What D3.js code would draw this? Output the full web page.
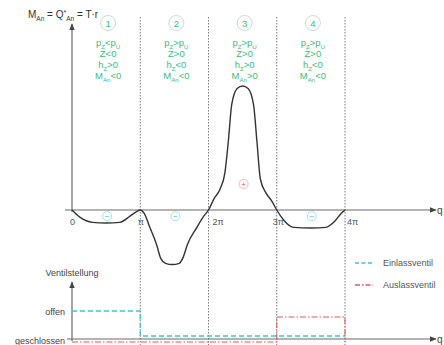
<!DOCTYPE html>
<html>
<head>
<meta charset="utf-8">
<script src="https://cdn.jsdelivr.net/npm/d3@7"></script>
<style>
body { margin: 0; background: #fff; }
svg { display: block; }
text { font-family: "Liberation Sans", Arial, sans-serif; }
</style>
</head>
<body>
<svg width="444" height="345"></svg>
<script>
// crank angle in units of pi, torque in % of peak
var phase  = [0, 0.12, 0.3, 0.5, 0.7, 0.85, 0.94, 1.0,
              1.06, 1.14, 1.24, 1.3, 1.37, 1.47, 1.57, 1.63, 1.69, 1.83, 1.93, 2.0,
              2.08, 2.17, 2.24, 2.29, 2.34, 2.42, 2.5, 2.58, 2.66, 2.71, 2.76, 2.84, 2.93, 3.0,
              3.1, 3.25, 3.5, 3.72, 3.85, 3.94, 4.0];
var torque = [0, -6, -10, -10.5, -10, -5, -1.5, 0,
              -3, -14, -28, -39, -43, -44, -43, -38, -28, -14, -5, 0,
              9, 17, 30, 55, 85, 98, 100, 98, 85, 55, 25, 14, 7, 0,
              -8, -14, -14.5, -14, -9, -3, 0];

var tickVals = [0, 1, 2, 3, 4];
var tickLabels = ["0", "π", "2π", "3π", "4π"];
var tickShift = [0, 0, 9, 1, 7];

var zoneNames = ["1", "2", "3", "4"];
var zoneConds = [
    ["p_Z<p_U", "Z<0", "h_Z>0", "M_An<0"],
    ["p_Z>p_U", "Z>0", "h_Z<0", "M_An<0"],
    ["p_Z>p_U", "Z>0", "h_Z>0", "M_An>0"],
    ["p_Z>p_U", "Z>0", "h_Z<0", "M_An<0"]
];
var zoneSigns = ["−", "−", "+", "−"];

// valve positions: 1 = offen, 0 = geschlossen
var valvePhase = [0, 1, 2, 3, 4];
var einlass = [1, 0, 0, 0, 0];
var auslass = [0, 0, 0, 1, 0];
var legendNames = ["Einlassventil", "Auslassventil"];

var green = "#3dba7e", cyan = "#45bfd6", red = "#e05a5a", axisCol = "#6a6a6a";

var svg = d3.select("svg");

var x = d3.scaleLinear().domain([0, 4]).range([72, 345]);
var yTop = d3.scaleLinear().domain([-50, 100]).range([272, 86]);
var yLow = d3.scaleLinear().domain([0, 1]).range([339, 314]);

function richText(sel, str) {
    var parts = str.match(/\^[^_^]|_[A-Za-z]+|[^_^]+/g);
    var shift = 0;
    parts.forEach(function(p) {
        var t = sel.append("tspan");
        if (p[0] == "_") {
            t.text(p.slice(1)).attr("font-size", "0.65em").attr("dy", 2.5 - shift);
            shift = 2.5;
        } else if (p[0] == "^") {
            t.text(p.slice(1)).attr("font-size", "0.7em").attr("dy", -3.5 - shift);
            shift = -3.5;
        } else {
            t.text(p).attr("dy", -shift);
            shift = 0;
        }
    });
}

var defs = svg.append("defs");
defs.append("marker").attr("id", "arr")
    .attr("viewBox", "0 0 10 10").attr("refX", 9).attr("refY", 5)
    .attr("markerWidth", 7).attr("markerHeight", 7).attr("orient", "auto")
    .attr("markerUnits", "userSpaceOnUse")
    .append("path").attr("d", "M0,1L10,5L0,9Z").attr("fill", "#444");

// dotted phase boundaries
svg.append("g").selectAll("line").data(tickVals.slice(1)).enter().append("line")
    .attr("x1", d => x(d)).attr("x2", d => x(d))
    .attr("y1", 17).attr("y2", 345)
    .attr("stroke", "#555").attr("stroke-width", 0.8)
    .attr("stroke-dasharray", "1.5,1.5");

// top axes
svg.append("line").attr("x1", 65).attr("x2", 436).attr("y1", yTop(0)).attr("y2", yTop(0))
    .attr("stroke", axisCol).attr("stroke-width", 1.2).attr("marker-end", "url(#arr)");
svg.append("line").attr("x1", x(0)).attr("x2", x(0)).attr("y1", yTop(0) + 2).attr("y2", 24)
    .attr("stroke", axisCol).attr("stroke-width", 1.2).attr("marker-end", "url(#arr)");
svg.append("text").attr("x", 437).attr("y", yTop(0) + 3.5).attr("font-size", 10).attr("fill", "#444").text("q");

var title = svg.append("text").attr("x", 28).attr("y", 18).attr("font-size", 10).attr("fill", "#333");
richText(title, "M_An = Q^*_An = T·r");

var xAxis = svg.append("g").attr("transform", `translate(0,${yTop(0)})`)
    .call(d3.axisBottom(x).tickValues(tickVals).tickSize(0).tickPadding(9)
        .tickFormat((d, i) => tickLabels[i]));
xAxis.select(".domain").remove();
xAxis.selectAll("text").attr("font-size", 9).attr("fill", "#555")
    .attr("font-family", "Liberation Sans, Arial, sans-serif")
    .attr("dx", (d, i) => tickShift[i]);

// torque curve
var pts = phase.map((p, i) => [p, torque[i]]);
var torqueLine = d3.line().x(d => x(d[0])).y(d => yTop(d[1])).curve(d3.curveMonotoneX);
svg.append("path").datum(pts)
    .attr("d", torqueLine)
    .attr("fill", "none").attr("stroke", "#333").attr("stroke-width", 1.4);

// zone labels
var zones = svg.append("g").selectAll("g").data(zoneNames).enter().append("g")
    .attr("transform", (d, i) => `translate(${x(i + 0.5) + 2},0)`);
zones.append("circle").attr("cy", 23).attr("r", 7.5)
    .attr("fill", "#fff").attr("stroke", "#cfd8d4").attr("stroke-width", 1);
zones.append("text").attr("y", 26.5).attr("text-anchor", "middle")
    .attr("font-size", 9.5).attr("fill", green).text(d => d);
zones.each(function(d, i) {
    var g = d3.select(this);
    zoneConds[i].forEach(function(c, j) {
        var t = g.append("text").attr("y", 46 + j * 11).attr("text-anchor", "middle")
            .attr("font-size", 9.5).attr("fill", green);
        richText(t, c);
    });
});

// sign markers
var signs = svg.append("g").selectAll("g").data(zoneSigns).enter().append("g")
    .attr("transform", (d, i) => `translate(${x(i + 0.5) + 1},${d == "+" ? yTop(21) : yTop(-5)})`);
signs.append("circle").attr("r", 4.5).attr("fill", "none")
    .attr("stroke", d => d == "+" ? "#f0b0b0" : "#9fdbe8").attr("stroke-width", 0.9);
signs.append("text").attr("y", 3).attr("text-anchor", "middle").attr("font-size", 8)
    .attr("fill", d => d == "+" ? red : cyan).text(d => d);

// lower chart: valve positions
svg.append("line").attr("x1", 67).attr("x2", 436).attr("y1", yLow(0)).attr("y2", yLow(0))
    .attr("stroke", axisCol).attr("stroke-width", 1.2).attr("marker-end", "url(#arr)");
svg.append("line").attr("x1", x(0)).attr("x2", x(0)).attr("y1", yLow(0) + 2).attr("y2", 282)
    .attr("stroke", axisCol).attr("stroke-width", 1.2).attr("marker-end", "url(#arr)");
svg.append("text").attr("x", 437).attr("y", yLow(0) + 3.5).attr("font-size", 10).attr("fill", "#444").text("q");
svg.append("text").attr("x", 72).attr("y", 276).attr("text-anchor", "middle")
    .attr("font-size", 9).attr("fill", "#444").text("Ventilstellung");
svg.append("text").attr("x", 65).attr("y", yLow(1) + 1).attr("text-anchor", "end")
    .attr("font-size", 9).attr("fill", "#444").text("offen");
svg.append("text").attr("x", 65).attr("y", yLow(0) + 5).attr("text-anchor", "end")
    .attr("font-size", 9).attr("fill", "#444").text("geschlossen");

var stepLine = off => d3.line().x(d => x(d[0])).y(d => yLow(d[1]) + off).curve(d3.curveStepAfter);
svg.append("path").datum(valvePhase.map((p, i) => [p, einlass[i]]))
    .attr("d", stepLine(-3)).attr("fill", "none").attr("stroke", cyan)
    .attr("stroke-width", 1.3).attr("stroke-dasharray", "5,3");
svg.append("path").datum(valvePhase.map((p, i) => [p, auslass[i]]))
    .attr("d", stepLine(3)).attr("fill", "none").attr("stroke", red)
    .attr("stroke-width", 1.1).attr("stroke-dasharray", "6,2,1.5,2");

// legend
var legend = svg.append("g").selectAll("g").data(legendNames).enter().append("g")
    .attr("transform", (d, i) => `translate(355,${263 + i * 22})`);
legend.append("line").attr("x1", 0).attr("x2", 18)
    .attr("stroke", (d, i) => i == 0 ? cyan : red).attr("stroke-width", 1.3)
    .attr("stroke-dasharray", (d, i) => i == 0 ? "4,2.5" : "5,2,1.5,2");
legend.append("text").attr("x", 28).attr("y", 3).attr("font-size", 9)
    .attr("fill", "#555").text(d => d);
</script>
</body>
</html>
